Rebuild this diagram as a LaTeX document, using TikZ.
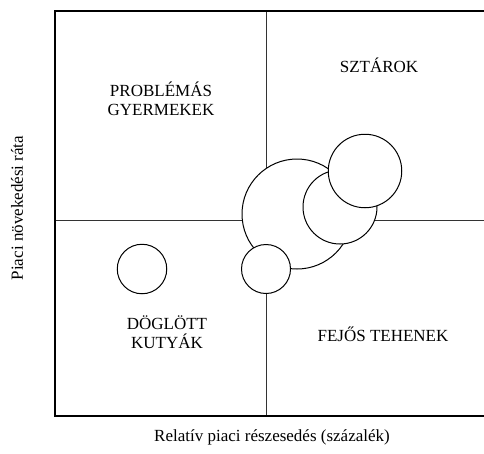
\documentclass[tikz,border=0pt]{standalone}
\usepackage{fontspec}
\setmainfont{Liberation Serif}
\begin{document}
\begin{tikzpicture}[x=1pt,y=-1pt,
  frameline/.style={line width=2pt,black},
  divider/.style={line width=1pt,black!80},
  bubble/.style={draw=black,line width=1pt,fill=white,circle,inner sep=0pt},
  lbl/.style={font=\fontsize{17}{19}\selectfont,align=center,inner sep=0pt}]
\useasboundingbox (0,0) rectangle (484,453);
% dividers
\coordinate (vt) at (266,11);
\coordinate (vb) at (266,416);
\coordinate (hl) at (55,220);
\coordinate (hr) at (484,220);
\draw[divider] (vt) -- (vb);
\draw[divider] (hl) -- (hr);
% frame (right side cut off)
\coordinate (tr) at (484,11);
\coordinate (tl) at (55,11);
\coordinate (bl) at (55,416);
\coordinate (br) at (484,416);
\draw[frameline,line join=miter] (tr) -- (tl) -- (bl) -- (br);
% bubbles
\node[bubble,minimum size=110pt] (big) at (297,214) {};
\node[bubble,minimum size=74pt] (mid) at (340,207) {};
\node[bubble,minimum size=73.5pt] (top) at (365,171) {};
\node[bubble,minimum size=49pt] (low) at (266,269) {};
\node[bubble,minimum size=49.5pt] (dog) at (142,269) {};
% labels
\node[lbl] (prob) at (161,99) {PROBLÉMÁS\\GYERMEKEK};
\node[lbl] (szt) at (379,65) {SZTÁROK};
\node[lbl] (dogl) at (167,332) {DÖGLÖTT\\KUTYÁK};
\node[lbl] (fej) at (383,334) {FEJŐS TEHENEK};
\node[lbl] (xl) at (272,437) {Relatív piaci részesedés (százalék)};
\node[lbl,rotate=90] (yl) at (17,208) {Piaci növekedési ráta};
\end{tikzpicture}
\end{document}
